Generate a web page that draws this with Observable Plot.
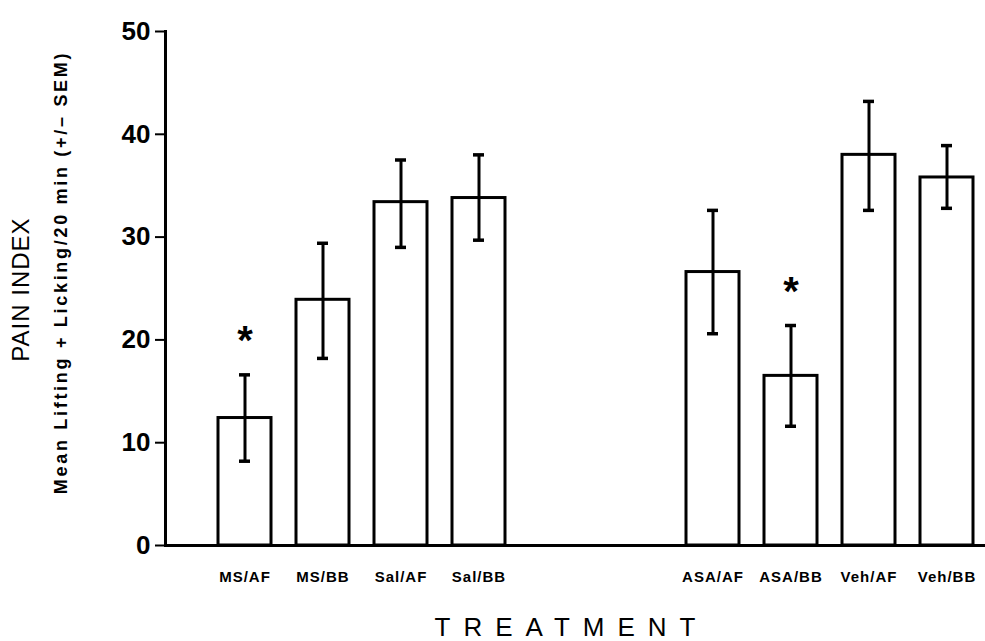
<!DOCTYPE html>
<html>
<head>
<meta charset="utf-8">
<script src="https://cdn.jsdelivr.net/npm/d3@7"></script>
<script src="https://cdn.jsdelivr.net/npm/@observablehq/plot@0.6"></script>
<style>
  html, body { margin: 0; padding: 0; background: #fff; }
  #chart svg { display: block; }
</style>
</head>
<body>
<div id="chart"></div>
<script>
const treatments = ["MS/AF", "MS/BB", "Sal/AF", "Sal/BB", "ASA/AF", "ASA/BB", "Veh/AF", "Veh/BB"];
const means      = [12.4, 23.9, 33.4, 33.8, 26.6, 16.5, 38.0, 35.8];
const semLow     = [8.2, 18.2, 29.0, 29.7, 20.6, 11.6, 32.6, 32.8];
const semHigh    = [16.6, 29.4, 37.5, 38.0, 32.6, 21.4, 43.2, 38.9];
const significant = ["MS/AF", "ASA/BB"];
const starY      = [20.7, 25.4];
const yTicks     = [0, 10, 20, 30, 40, 50];
const xDomain    = ["MS/AF", "MS/BB", "Sal/AF", "Sal/BB", "gap1", "gap2", "ASA/AF", "ASA/BB", "Veh/AF", "Veh/BB"];

const data = treatments.map((t, i) => ({t, mean: means[i], lo: semLow[i], hi: semHigh[i]}));
const stars = significant.map((t, i) => ({t, y: starY[i]}));

const font = "'Liberation Sans', Arial, sans-serif";

const chart = Plot.plot({
  width: 985,
  height: 641,
  marginLeft: 165,
  marginRight: 0,
  marginTop: 31,
  marginBottom: 96,
  style: {fontFamily: font, background: "white", color: "black"},
  x: {domain: xDomain, paddingInner: 0.32, paddingOuter: 0.416, align: 0.815},
  y: {domain: [0, 50]},
  marks: [
    Plot.barY(data, {x: "t", y: "mean", fill: "white", stroke: "black", strokeWidth: 3}),
    Plot.ruleX(data, {x: "t", y1: "lo", y2: "hi", stroke: "black", strokeWidth: 3}),
    Plot.tickY(data, {x: "t", y: "lo", stroke: "black", strokeWidth: 3.5, inset: 21}),
    Plot.tickY(data, {x: "t", y: "hi", stroke: "black", strokeWidth: 3.5, inset: 21}),
    Plot.text(stars, {x: "t", y: "y", text: () => "*", fontSize: 40, fontWeight: "bold", dy: 8}),
    Plot.ruleY([0], {stroke: "black", strokeWidth: 3}),
    Plot.frame({anchor: "left", stroke: "black", strokeWidth: 3}),
    Plot.axisY({ticks: yTicks, tickSize: 10, tickPadding: 5, strokeWidth: 2, fontSize: 26, fontWeight: "bold", label: null}),
    Plot.axisX({ticks: treatments, tickSize: 0, tickPadding: 26, fontSize: 15, fontWeight: "bold", label: null}),
    Plot.text(["PAIN INDEX"], {frameAnchor: "left", textAnchor: "middle", rotate: -90, dx: -144, dy: 1, fontSize: 24, text: d => d}),
    Plot.text(["Mean Lifting + Licking/20 min (+/\u2013 SEM)"], {frameAnchor: "left", textAnchor: "middle", rotate: -90, dx: -104, dy: -16, fontSize: 18, fontWeight: "bold", text: d => d}),
    Plot.text(["TREATMENT"], {frameAnchor: "bottom", textAnchor: "middle", dx: -4, dy: 90, lineAnchor: "bottom", fontSize: 26, text: d => d})
  ]
});
d3.select(chart).selectAll("text").each(function() {
  const t = this.textContent;
  if (t === "TREATMENT") d3.select(this).attr("letter-spacing", "13px");
  else if (t.startsWith("Mean")) d3.select(this).attr("letter-spacing", "2.7px");
  else if (treatments.includes(t)) d3.select(this).attr("letter-spacing", "1px");
  else if (t === "PAIN INDEX") d3.select(this).attr("letter-spacing", "1px");
});
document.getElementById("chart").appendChild(chart);
</script>
</body>
</html>
